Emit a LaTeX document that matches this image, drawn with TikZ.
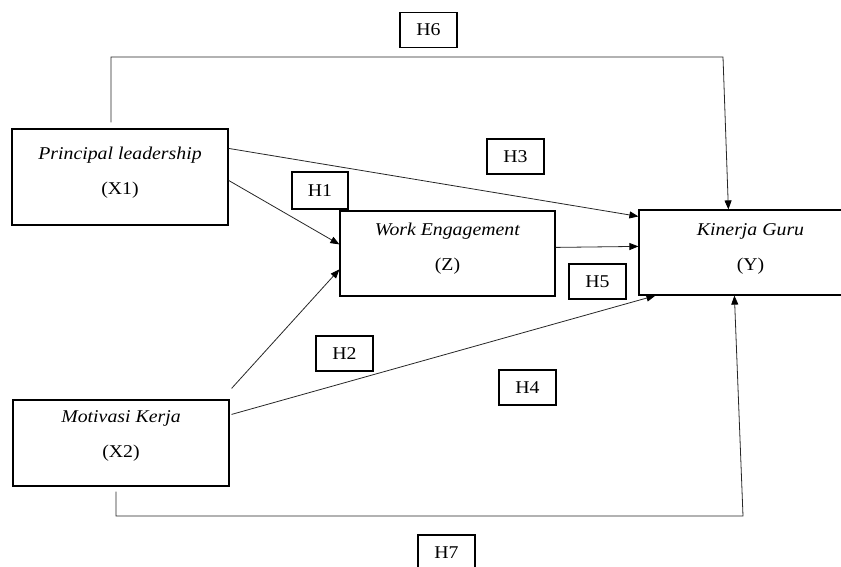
\documentclass[tikz,border=0pt]{standalone}
\usepackage{fontspec}
\setmainfont{Liberation Serif}[FakeStretch=1.1]
\usetikzlibrary{arrows.meta}
\begin{document}
\begin{tikzpicture}[x=1pt,y=-1pt,
  varbox/.style={draw=black, line width=1.2pt, inner sep=0pt},
  hbox/.style={draw=black, line width=1.2pt, minimum width=57pt, minimum height=35pt, inner sep=0pt, font=\fontsize{18}{20}\selectfont},
  vtext/.style={align=center, inner sep=0pt, font=\fontsize{18}{35}\selectfont},
  conn/.style={draw=black!85, line width=0.8pt},
  arr/.style={conn, -{Triangle[length=9pt,width=7pt,color=black]}}]
\useasboundingbox (0,0) rectangle (841,566);

% variable boxes
\node[varbox, minimum width=216pt, minimum height=96pt] (X1) at (120,177) {};
\node[varbox, minimum width=215pt, minimum height=85pt] (Z) at (447.5,253.5) {};
\node[varbox, minimum width=223pt, minimum height=85pt] (Y) at (750.5,252.5) {};
\node[varbox, minimum width=216pt, minimum height=86pt] (X2) at (121,443) {};

\node[vtext] (X1t) at ([yshift=4pt]X1.center) {\textit{Principal leadership}\\(X1)};
\node[vtext] (Zt) at ([yshift=5pt]Z.center) {\textit{Work Engagement}\\(Z)};
\node[vtext] (Yt) at ([yshift=4pt]Y.center) {\textit{Kinerja Guru}\\(Y)};
\node[vtext] (X2t) at ([yshift=7.5pt]X2.center) {\textit{Motivasi Kerja}\\(X2)};

% hypothesis labels
\node[hbox] (H6) at (428.5,30) {H6};
\node[hbox, minimum width=56pt, minimum height=37pt] (H1) at (320,190.5) {H1};
\node[hbox] (H3) at (515.5,156.5) {H3};
\node[hbox] (H5) at (597.5,281.5) {H5};
\node[hbox] (H2) at (344.5,353.5) {H2};
\node[hbox] (H4) at (527.5,387.5) {H4};
\node[hbox] (H7) at (446.5,552.5) {H7};

% connectors
\draw[arr] ([yshift=-52pt]X1.north east) -- ([yshift=-34pt]Z.north west);
\draw[arr] ([yshift=-20pt]X1.north east) -- ([yshift=-7pt]Y.north west);
\draw[arr] ([yshift=-37pt]Z.north east) -- ([yshift=-37pt]Y.north west);
\draw[arr] ([xshift=2pt,yshift=11pt]X2.north east) -- ([yshift=-59pt]Z.north west);
\draw[arr] ([xshift=2pt,yshift=-15pt]X2.north east) -- ([xshift=17pt]Y.south west);

\coordinate (k6) at (723,57);
\draw[arr] ([xshift=-9pt,yshift=6pt]X1.north) |- (k6) -- ([xshift=90pt]Y.north west);
\coordinate (k7) at (743,516);
\draw[arr] ([xshift=-5pt,yshift=-5pt]X2.south) |- (k7) -- ([xshift=96pt]Y.south west);
\end{tikzpicture}
\end{document}
